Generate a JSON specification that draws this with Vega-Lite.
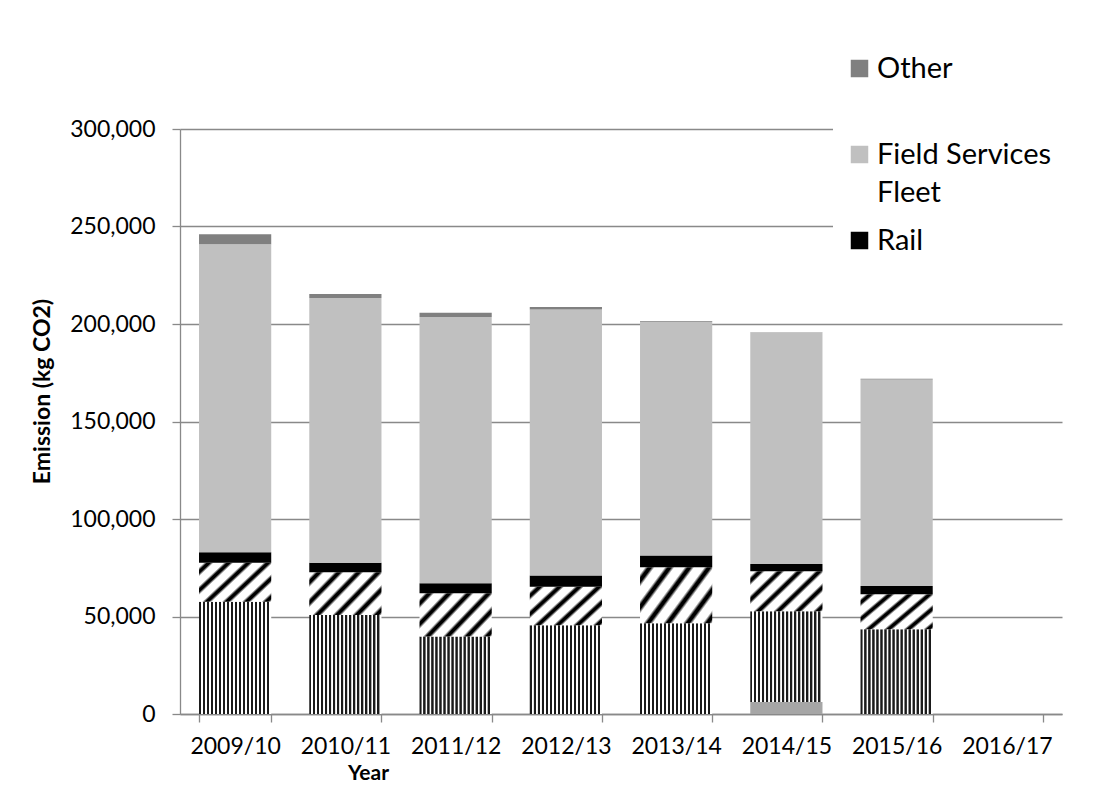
{
  "$schema": "https://vega.github.io/schema/vega-lite/v6.json",
  "width": 882,
  "height": 585,
  "autosize": {"type": "none"},
  "padding": {"left": 180, "top": 129, "right": 40, "bottom": 97},
  "background": "white",
  "config": {"view": {"stroke": null}},
  "data": {
    "values": [
      {"year": "2009/10", "series": "Hire Cars", "value": 0},
      {"year": "2009/10", "series": "Air", "value": 57600},
      {"year": "2009/10", "series": "Grey Fleet", "value": 20000},
      {"year": "2009/10", "series": "Rail", "value": 5300},
      {"year": "2009/10", "series": "Field Services Fleet", "value": 158000},
      {"year": "2009/10", "series": "Other", "value": 5100},
      {"year": "2010/11", "series": "Hire Cars", "value": 0},
      {"year": "2010/11", "series": "Air", "value": 50800},
      {"year": "2010/11", "series": "Grey Fleet", "value": 21900},
      {"year": "2010/11", "series": "Rail", "value": 4900},
      {"year": "2010/11", "series": "Field Services Fleet", "value": 135700},
      {"year": "2010/11", "series": "Other", "value": 2100},
      {"year": "2011/12", "series": "Hire Cars", "value": 0},
      {"year": "2011/12", "series": "Air", "value": 39700},
      {"year": "2011/12", "series": "Grey Fleet", "value": 22200},
      {"year": "2011/12", "series": "Rail", "value": 5100},
      {"year": "2011/12", "series": "Field Services Fleet", "value": 136600},
      {"year": "2011/12", "series": "Other", "value": 2200},
      {"year": "2012/13", "series": "Hire Cars", "value": 0},
      {"year": "2012/13", "series": "Air", "value": 45500},
      {"year": "2012/13", "series": "Grey Fleet", "value": 19700},
      {"year": "2012/13", "series": "Rail", "value": 5800},
      {"year": "2012/13", "series": "Field Services Fleet", "value": 136500},
      {"year": "2012/13", "series": "Other", "value": 1200},
      {"year": "2013/14", "series": "Hire Cars", "value": 0},
      {"year": "2013/14", "series": "Air", "value": 46500},
      {"year": "2013/14", "series": "Grey Fleet", "value": 28800},
      {"year": "2013/14", "series": "Rail", "value": 6000},
      {"year": "2013/14", "series": "Field Services Fleet", "value": 119800},
      {"year": "2013/14", "series": "Other", "value": 400},
      {"year": "2014/15", "series": "Hire Cars", "value": 6200},
      {"year": "2014/15", "series": "Air", "value": 46500},
      {"year": "2014/15", "series": "Grey Fleet", "value": 20500},
      {"year": "2014/15", "series": "Rail", "value": 3700},
      {"year": "2014/15", "series": "Field Services Fleet", "value": 118700},
      {"year": "2014/15", "series": "Other", "value": 200},
      {"year": "2015/16", "series": "Hire Cars", "value": 0},
      {"year": "2015/16", "series": "Air", "value": 43400},
      {"year": "2015/16", "series": "Grey Fleet", "value": 18000},
      {"year": "2015/16", "series": "Rail", "value": 4200},
      {"year": "2015/16", "series": "Field Services Fleet", "value": 106000},
      {"year": "2015/16", "series": "Other", "value": 300}
    ]
  },
  "transform": [
    {
      "calculate": "indexof(['Hire Cars', 'Air', 'Grey Fleet', 'Rail', 'Field Services Fleet', 'Other'], datum.series)",
      "as": "stackRank"
    }
  ],
  "mark": {"type": "bar", "strokeWidth": 0},
  "encoding": {
    "x": {
      "field": "year",
      "type": "nominal",
      "title": "Year",
      "scale": {
        "domain": ["2009/10", "2010/11", "2011/12", "2012/13", "2013/14", "2014/15", "2015/16", "2016/17"],
        "paddingInner": 0.345,
        "paddingOuter": 0.1725
      },
      "axis": {
        "labelAngle": 0,
        "tickBand": "extent",
        "grid": false,
        "domainColor": "#898989",
        "domainWidth": 1.3,
        "tickColor": "#898989",
        "tickWidth": 1.3,
        "tickSize": 8,
        "labelFont": "Lato",
        "labelFontSize": 23,
        "labelColor": "#000000",
        "labelPadding": 13,
        "titleFont": "Lato",
        "titleFontSize": 21,
        "titleFontWeight": "bold",
        "titleColor": "#000000",
        "titleX": 188,
        "titleY": 65,
        "titleAlign": "center",
        "titleBaseline": "alphabetic"
      }
    },
    "y": {
      "field": "value",
      "type": "quantitative",
      "stack": "zero",
      "title": "Emission (kg CO2)",
      "scale": {"domain": [0, 300000], "nice": false},
      "axis": {
        "values": [0, 50000, 100000, 150000, 200000, 250000, 300000],
        "format": ",.0f",
        "grid": true,
        "gridColor": "#898989",
        "gridWidth": 1.3,
        "domainColor": "#898989",
        "domainWidth": 1.3,
        "tickColor": "#898989",
        "tickWidth": 1.3,
        "tickSize": 8,
        "labelFont": "Lato",
        "labelFontSize": 23,
        "labelColor": "#000000",
        "labelPadding": 17,
        "titleFont": "Lato",
        "titleFontSize": 23,
        "titleFontWeight": "bold",
        "titleColor": "#000000",
        "titleAngle": 270,
        "titleX": -131,
        "titleY": 262,
        "titleAlign": "center",
        "titleBaseline": "alphabetic"
      }
    },
    "order": {"field": "stackRank", "type": "quantitative", "sort": "ascending"},
    "fill": {
      "field": "series",
      "type": "nominal",
      "scale": {
        "domain": ["Other", "Field Services Fleet", "Rail", "Grey Fleet", "Air", "Hire Cars"],
        "range": ["#808080", "#c0c0c0", "#000000", "#ffffff", "#1a1a1a", "#a6a6a6"]
      },
      "legend": {
        "values": ["Other", "Field Services Fleet", "Rail"],
        "title": null,
        "orient": "none",
        "legendX": 653,
        "legendY": -87,
        "direction": "vertical",
        "gridAlign": "all",
        "symbolType": "square",
        "symbolSize": 306,
        "symbolStrokeWidth": 0,
        "labelFont": "Lato",
        "labelFontSize": 29,
        "labelColor": "#000000",
        "labelOffset": 3,
        "labelLimit": 400,
        "labelBaseline": "alphabetic",
        "labelExpr": "datum.label == 'Field Services Fleet' ? ['Field Services', 'Fleet'] : datum.label",
        "fillColor": "white",
        "padding": 12,
        "rowPadding": 18,
        "encode": {
          "labels": {"update": {"dy": {"value": 9}, "lineHeight": {"value": 38}}}
        }
      },
      "condition": [
        {
          "test": "datum.series == 'Air'",
          "value": {
            "gradient": "linear",
            "x1": 0, "y1": 0, "x2": 1, "y2": 0,
            "stops": [
              {"offset": 0, "color": "#1a1a1a"}, {"offset": 0.025, "color": "#1a1a1a"}, {"offset": 0.0306, "color": "#ffffff"}, {"offset": 0.0511, "color": "#ffffff"},
              {"offset": 0.0556, "color": "#1a1a1a"}, {"offset": 0.0806, "color": "#1a1a1a"}, {"offset": 0.0862, "color": "#ffffff"}, {"offset": 0.1067, "color": "#ffffff"},
              {"offset": 0.1111, "color": "#1a1a1a"}, {"offset": 0.1361, "color": "#1a1a1a"}, {"offset": 0.1417, "color": "#ffffff"}, {"offset": 0.1622, "color": "#ffffff"},
              {"offset": 0.1667, "color": "#1a1a1a"}, {"offset": 0.1917, "color": "#1a1a1a"}, {"offset": 0.1973, "color": "#ffffff"}, {"offset": 0.2178, "color": "#ffffff"},
              {"offset": 0.2222, "color": "#1a1a1a"}, {"offset": 0.2472, "color": "#1a1a1a"}, {"offset": 0.2528, "color": "#ffffff"}, {"offset": 0.2733, "color": "#ffffff"},
              {"offset": 0.2778, "color": "#1a1a1a"}, {"offset": 0.3028, "color": "#1a1a1a"}, {"offset": 0.3084, "color": "#ffffff"}, {"offset": 0.3289, "color": "#ffffff"},
              {"offset": 0.3333, "color": "#1a1a1a"}, {"offset": 0.3583, "color": "#1a1a1a"}, {"offset": 0.3639, "color": "#ffffff"}, {"offset": 0.3844, "color": "#ffffff"},
              {"offset": 0.3889, "color": "#1a1a1a"}, {"offset": 0.4139, "color": "#1a1a1a"}, {"offset": 0.4195, "color": "#ffffff"}, {"offset": 0.44, "color": "#ffffff"},
              {"offset": 0.4444, "color": "#1a1a1a"}, {"offset": 0.4694, "color": "#1a1a1a"}, {"offset": 0.475, "color": "#ffffff"}, {"offset": 0.4955, "color": "#ffffff"},
              {"offset": 0.5, "color": "#1a1a1a"}, {"offset": 0.525, "color": "#1a1a1a"}, {"offset": 0.5306, "color": "#ffffff"}, {"offset": 0.5511, "color": "#ffffff"},
              {"offset": 0.5556, "color": "#1a1a1a"}, {"offset": 0.5806, "color": "#1a1a1a"}, {"offset": 0.5862, "color": "#ffffff"}, {"offset": 0.6067, "color": "#ffffff"},
              {"offset": 0.6111, "color": "#1a1a1a"}, {"offset": 0.6361, "color": "#1a1a1a"}, {"offset": 0.6417, "color": "#ffffff"}, {"offset": 0.6622, "color": "#ffffff"},
              {"offset": 0.6667, "color": "#1a1a1a"}, {"offset": 0.6917, "color": "#1a1a1a"}, {"offset": 0.6973, "color": "#ffffff"}, {"offset": 0.7178, "color": "#ffffff"},
              {"offset": 0.7222, "color": "#1a1a1a"}, {"offset": 0.7472, "color": "#1a1a1a"}, {"offset": 0.7528, "color": "#ffffff"}, {"offset": 0.7733, "color": "#ffffff"},
              {"offset": 0.7778, "color": "#1a1a1a"}, {"offset": 0.8028, "color": "#1a1a1a"}, {"offset": 0.8084, "color": "#ffffff"}, {"offset": 0.8289, "color": "#ffffff"},
              {"offset": 0.8333, "color": "#1a1a1a"}, {"offset": 0.8583, "color": "#1a1a1a"}, {"offset": 0.8639, "color": "#ffffff"}, {"offset": 0.8844, "color": "#ffffff"},
              {"offset": 0.8889, "color": "#1a1a1a"}, {"offset": 0.9139, "color": "#1a1a1a"}, {"offset": 0.9195, "color": "#ffffff"}, {"offset": 0.94, "color": "#ffffff"},
              {"offset": 0.9444, "color": "#1a1a1a"}, {"offset": 0.9694, "color": "#1a1a1a"}, {"offset": 0.975, "color": "#ffffff"}, {"offset": 1, "color": "#ffffff"}
            ]
          }
        },
        {
          "test": "datum.series == 'Grey Fleet'",
          "value": {
            "gradient": "linear",
            "x1": 0, "y1": 0, "x2": 1.441, "y2": 0.829,
            "stops": [
              {"offset": 0, "color": "#ffffff"}, {"offset": 0.0357, "color": "#ffffff"}, {"offset": 0.06, "color": "#000000"}, {"offset": 0.0829, "color": "#000000"}, {"offset": 0.1071, "color": "#ffffff"},
              {"offset": 0.1429, "color": "#ffffff"}, {"offset": 0.1786, "color": "#ffffff"}, {"offset": 0.2029, "color": "#000000"}, {"offset": 0.2257, "color": "#000000"}, {"offset": 0.25, "color": "#ffffff"},
              {"offset": 0.2857, "color": "#ffffff"}, {"offset": 0.3214, "color": "#ffffff"}, {"offset": 0.3457, "color": "#000000"}, {"offset": 0.3686, "color": "#000000"}, {"offset": 0.3929, "color": "#ffffff"},
              {"offset": 0.4286, "color": "#ffffff"}, {"offset": 0.4643, "color": "#ffffff"}, {"offset": 0.4886, "color": "#000000"}, {"offset": 0.5114, "color": "#000000"}, {"offset": 0.5357, "color": "#ffffff"},
              {"offset": 0.5714, "color": "#ffffff"}, {"offset": 0.6071, "color": "#ffffff"}, {"offset": 0.6314, "color": "#000000"}, {"offset": 0.6543, "color": "#000000"}, {"offset": 0.6786, "color": "#ffffff"},
              {"offset": 0.7143, "color": "#ffffff"}, {"offset": 0.75, "color": "#ffffff"}, {"offset": 0.7743, "color": "#000000"}, {"offset": 0.7971, "color": "#000000"}, {"offset": 0.8214, "color": "#ffffff"},
              {"offset": 0.8571, "color": "#ffffff"}, {"offset": 0.8929, "color": "#ffffff"}, {"offset": 0.9171, "color": "#000000"}, {"offset": 0.94, "color": "#000000"}, {"offset": 0.9643, "color": "#ffffff"},
              {"offset": 1, "color": "#ffffff"}
            ]
          }
        }
      ]
    }
  }
}
